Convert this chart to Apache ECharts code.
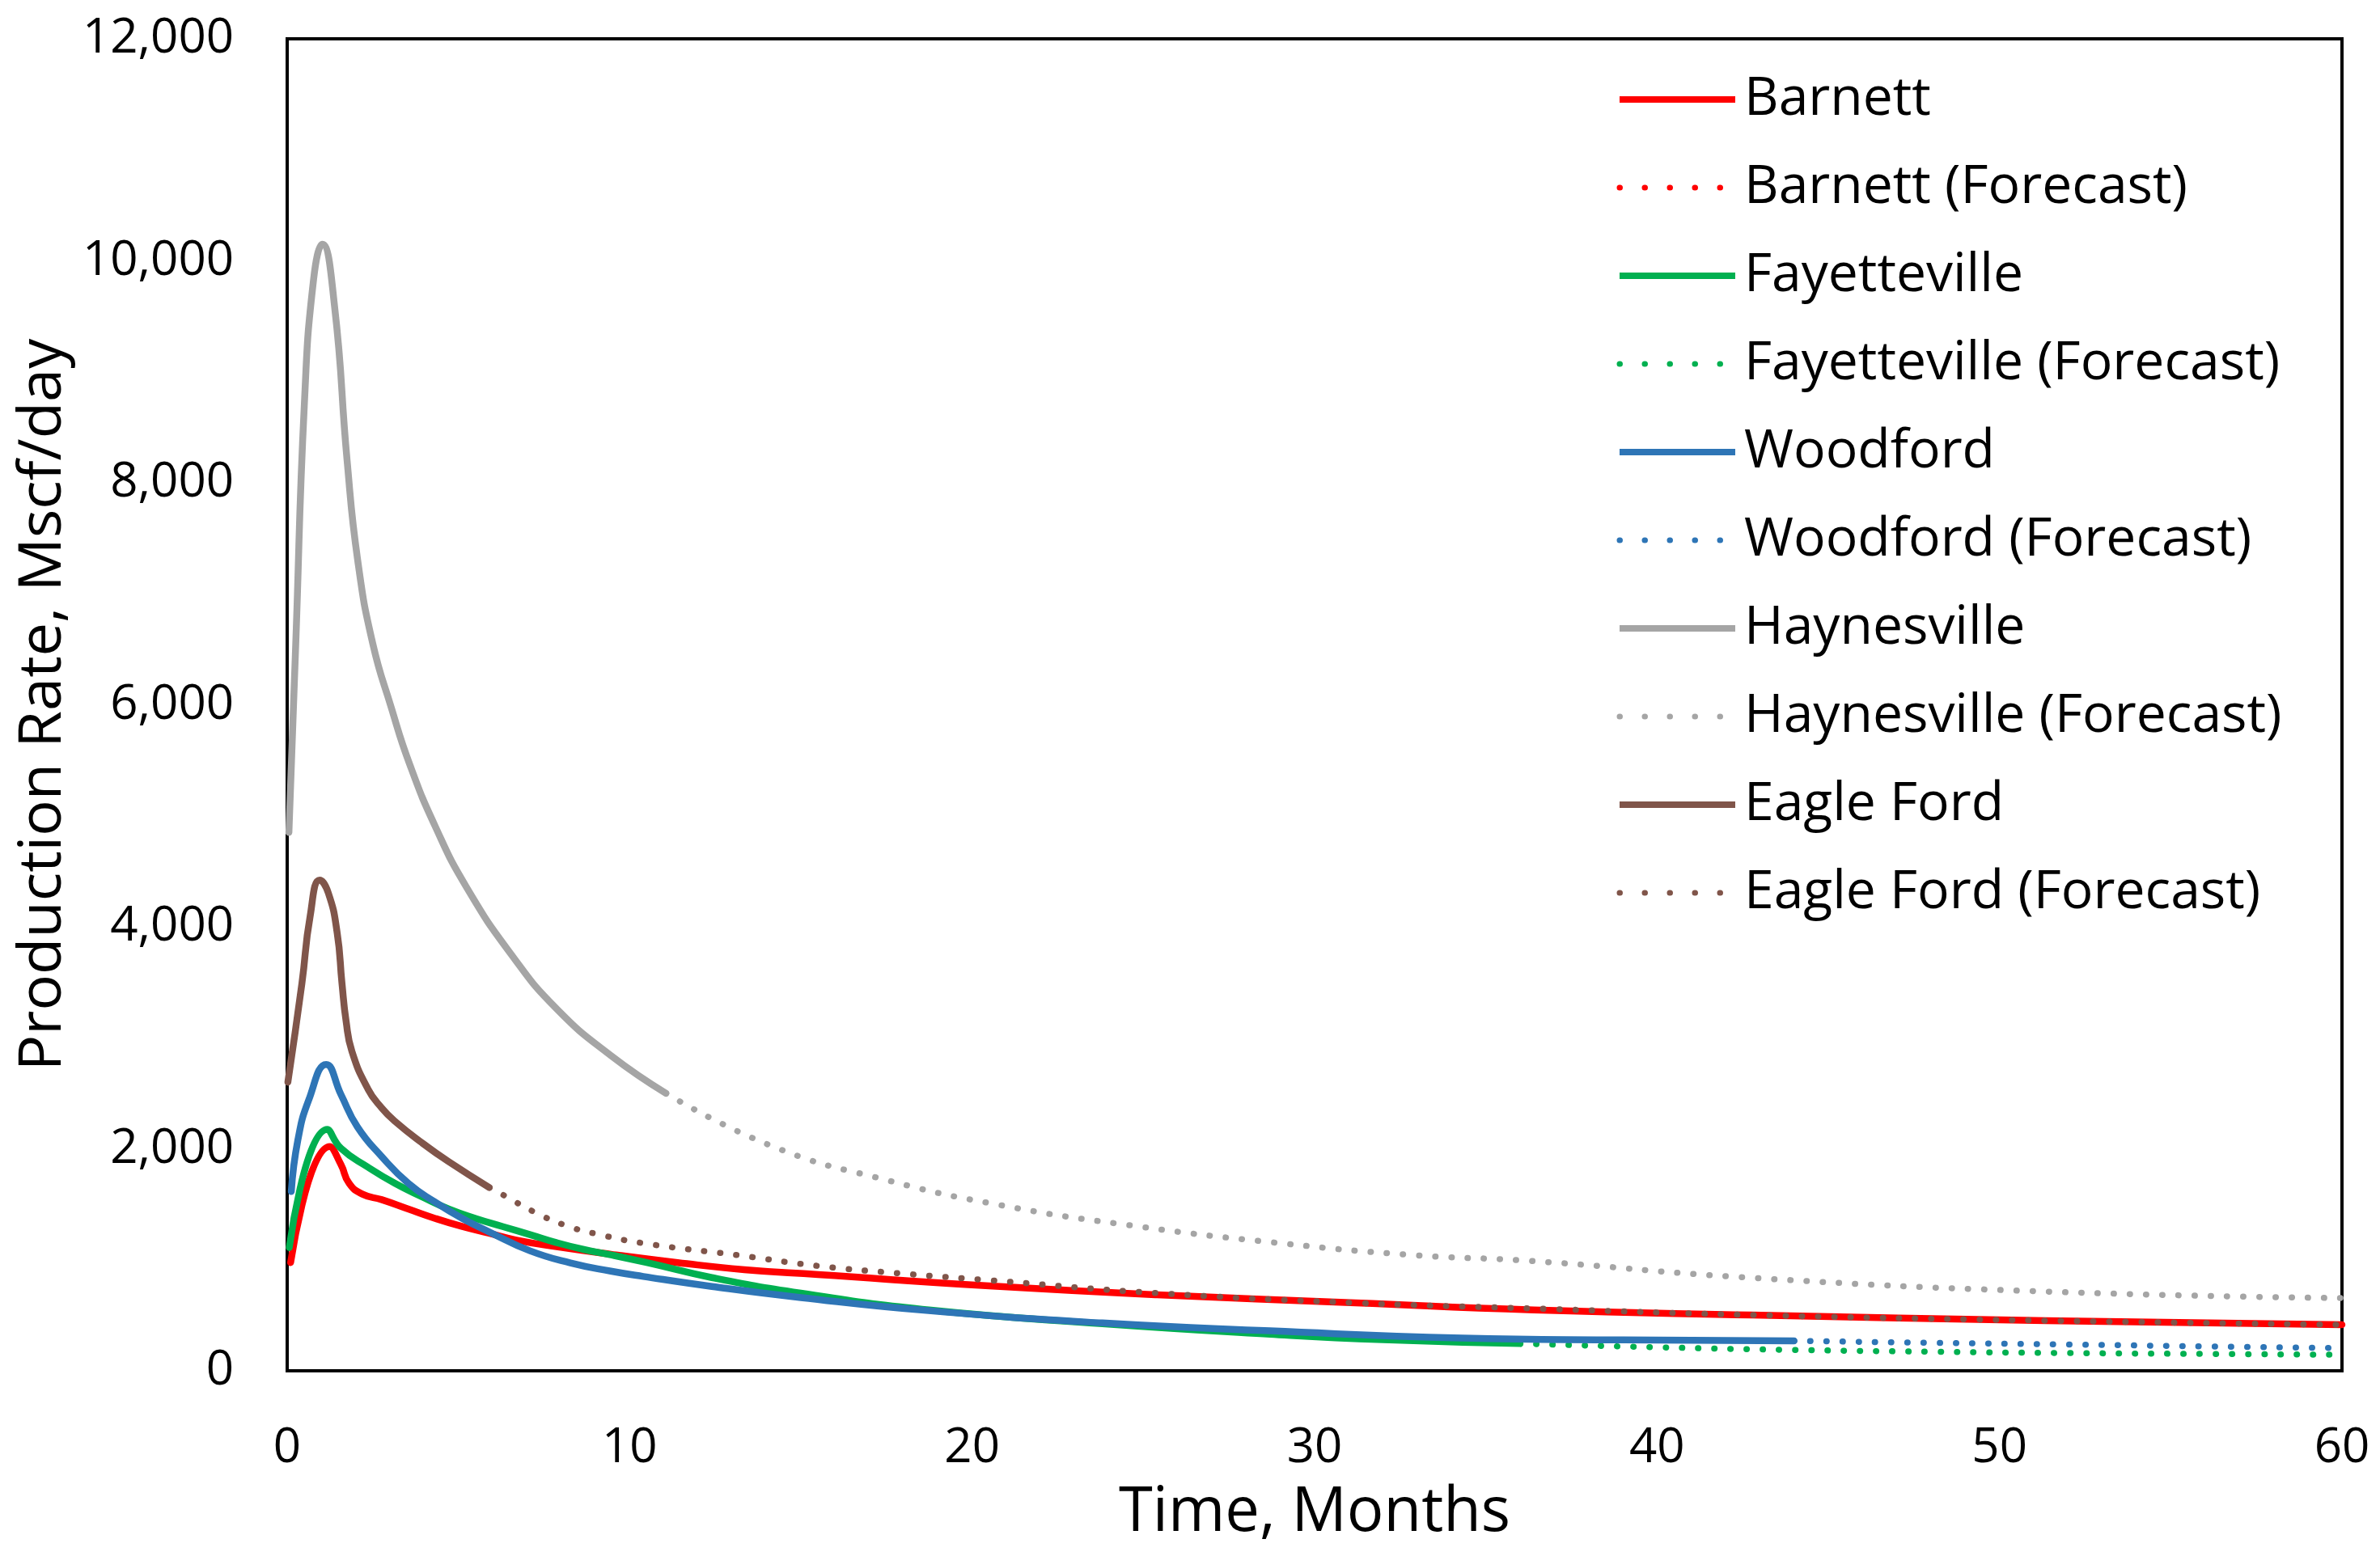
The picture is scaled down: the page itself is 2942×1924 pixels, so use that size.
<!DOCTYPE html>
<html>
<head>
<meta charset="utf-8">
<script src="https://cdn.jsdelivr.net/npm/echarts@6/dist/echarts.min.js"></script>
<style>
html,body{margin:0;padding:0;background:#fff;}
#chart{width:2942px;height:1924px;}
</style>
</head>
<body>
<div id="chart"></div>
<script>
// ---- data (x = months, y = Mscf/day) ----
const seriesNames = ["Barnett", "Barnett (Forecast)", "Fayetteville", "Fayetteville (Forecast)",
  "Woodford", "Woodford (Forecast)", "Haynesville", "Haynesville (Forecast)", "Eagle Ford", "Eagle Ford (Forecast)"];

const barnettActual = [[0.1,975],[1.24,2020],[1.57,1858],[1.81,1688],[2.2,1591],[2.76,1542],[3.54,1457],[4.33,1372],[5.12,1299],[5.9,1239],[6.69,1178],[7.87,1118],[9.45,1050],[11.4,975],[13.35,911],[15.5,867],[20.5,765],[25.4,685],[31.2,612],[36.4,548],[42.75,503],[51.35,452],[60,415]];
const barnettForecast = [];

const fayettevilleActual = [[0.06,1110],[1.17,2174],[1.57,2004],[2.36,1834],[3.15,1688],[3.94,1567],[4.72,1457],[5.51,1372],[6.3,1299],[7.09,1227],[7.87,1154],[8.66,1093],[9.45,1045],[10.5,975],[12.4,840],[15,700],[18.8,546],[23.8,425],[28.7,330],[32,280],[36,245]];
const fayettevilleForecast = [[36,245],[40,212],[44,188],[48,172],[52,160],[56,152],[60,145]];

const woodfordActual = [[0.12,1615],[0.31,2076],[0.63,2440],[1.14,2760],[1.57,2489],[2.05,2198],[2.76,1930],[3.54,1688],[4.33,1518],[5.12,1372],[5.9,1251],[7.09,1081],[8.27,972],[9.45,898],[10.4,850],[12.4,760],[15,660],[18.8,540],[23.8,431],[28.7,360],[34.3,295],[39,278],[44,270]];
const woodfordForecast = [[44,270],[48,252],[52,237],[56,220],[60,205]];

const haynesvilleActual = [[0.05,4850],[0.25,6550],[0.5,8700],[0.77,9830],[1.03,10150],[1.38,9600],[1.75,8200],[2.06,7300],[2.5,6550],[3.04,5975],[3.57,5470],[4.33,4900],[5.23,4360],[6.57,3740],[7.87,3260],[9.45,2840],[11.06,2500]];
const haynesvilleForecast = [[11.06,2500],[14.15,2025],[17.48,1720],[20.8,1494],[24.6,1311],[28.75,1158],[32.9,1042],[36.3,990],[42.75,838],[51.35,714],[60,655]];

const eagleFordActual = [[0.02,2600],[0.43,3490],[0.67,4095],[0.95,4420],[1.2,4306],[1.46,3945],[1.6,3490],[1.72,3150],[1.89,2878],[2.36,2538],[2.76,2368],[3.15,2247],[3.94,2053],[4.72,1883],[5.9,1652]];
const eagleFordForecast = [[5.9,1652],[6.34,1579],[7.2,1433],[8.11,1312],[9.06,1231],[10.5,1145],[13.2,1040],[15.5,945],[18,875],[20.5,816],[25.4,700],[31.2,612],[36.4,561],[42.75,503],[51.35,452],[60,415]];

const xTicks = [0, 10, 20, 30, 40, 50, 60];
const yTicks = [0, 2000, 4000, 6000, 8000, 10000, 12000];

const colors = {
  Barnett: "#FF0000",
  Fayetteville: "#00B050",
  Woodford: "#2E75B6",
  Haynesville: "#A5A5A5",
  "Eagle Ford": "#80554A"
};

const dataSets = [barnettActual, barnettForecast, fayettevilleActual, fayettevilleForecast,
  woodfordActual, woodfordForecast, haynesvilleActual, haynesvilleForecast, eagleFordActual, eagleFordForecast];

const FONT = "'Open Sans', 'DejaVu Sans', sans-serif";

const isForecast = n => n.indexOf("Forecast") >= 0;
const baseName = n => n.replace(" (Forecast)", "");

const series = seriesNames.map((name, i) => {
  const base = baseName(name);
  const forecast = isForecast(name);
  return {
    name: name,
    type: "line",
    data: dataSets[i],
    smooth: 0.5,
    symbol: "none",
    showSymbol: false,
    silent: true,
    color: colors[base],
    lineStyle: forecast
      ? { color: colors[base], width: 7.5, type: [0.5, 19.5], cap: "round" }
      : { color: colors[base], width: 8.5, cap: "round", join: "round" },
    z: 2 + i
  };
});

const legendData = seriesNames.map(name => ({
  name: name,
  itemStyle: { opacity: 0 },
  lineStyle: isForecast(name)
    ? { color: colors[baseName(name)], width: 7, type: [0.5, 30.5], cap: "round" }
    : { color: colors[baseName(name)], width: 8, cap: "butt" }
}));

const chart = echarts.init(document.getElementById("chart"), null, { renderer: "canvas" });
chart.setOption({
  animation: false,
  backgroundColor: "#ffffff",
  grid: {
    left: 355, right: 47, top: 48, bottom: 229,
    show: true, borderColor: "#000", borderWidth: 4, backgroundColor: "transparent",
    containLabel: false
  },
  legend: {
    orient: "vertical",
    left: 1998,
    top: 90,
    padding: 0,
    itemWidth: 143,
    itemHeight: 14,
    itemGap: 43,
    data: legendData,
    selectedMode: false,
    itemStyle: { opacity: 0 },
    lineStyle: { width: "inherit" },
    textStyle: { fontFamily: FONT, fontSize: 66, color: "#000", lineHeight: 64, padding: [0, 0, 0, 6] }
  },
  xAxis: {
    type: "value",
    min: xTicks[0],
    max: xTicks[xTicks.length - 1],
    interval: 10,
    name: "Time, Months",
    nameLocation: "middle",
    nameGap: 138,
    nameTextStyle: { fontFamily: FONT, fontSize: 76, color: "#000" },
    axisLine: { show: true, onZero: false, lineStyle: { color: "#000", width: 4 } },
    axisTick: { show: false },
    splitLine: { show: false },
    axisLabel: { fontFamily: FONT, fontSize: 60, color: "#000", margin: 66 }
  },
  yAxis: {
    type: "value",
    min: yTicks[0],
    max: yTicks[yTicks.length - 1],
    interval: 2000,
    name: "Production Rate, Mscf/day",
    nameLocation: "middle",
    nameGap: 255,
    nameRotate: 90,
    nameTextStyle: { fontFamily: FONT, fontSize: 74, color: "#000" },
    axisLine: { show: true, lineStyle: { color: "#000", width: 4 } },
    axisTick: { show: false },
    splitLine: { show: false },
    axisLabel: {
      fontFamily: FONT, fontSize: 60, color: "#000", margin: 66,
      formatter: v => v.toLocaleString("en-US")
    }
  },
  series: series
});
</script>
</body>
</html>
